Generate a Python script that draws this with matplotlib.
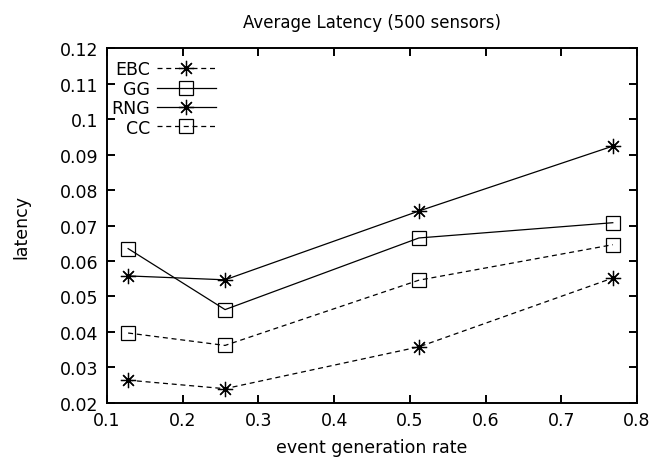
import matplotlib
matplotlib.use("Agg")
import matplotlib.pyplot as plt

# event generation rate
rate = [0.128, 0.256, 0.512, 0.768]

# average latency per protocol
ebc = [0.0264, 0.0240, 0.0358, 0.0552]
gg = [0.0635, 0.0463, 0.0665, 0.0708]
rng = [0.0558, 0.0547, 0.0741, 0.0924]
cc = [0.0397, 0.0362, 0.0546, 0.0646]

plt.rcParams["font.family"] = ["DejaVu Sans"]
plt.rcParams["font.size"] = 12.5

fig = plt.figure(figsize=(6.52, 4.6), dpi=100)
ax = fig.add_axes([0.164, 0.122, 0.813, 0.771])

star = (8, 2, 0)
dash = (4, 3)
common = dict(color="black", linewidth=0.9, markeredgewidth=0.9)

ax.plot(rate, ebc, linestyle="--", dashes=dash, marker=star, markersize=11,
        label="EBC", **common)
ax.plot(rate, gg, linestyle="-", marker="s", markersize=10, markerfacecolor="none",
        label="GG", **common)
ax.plot(rate, rng, linestyle="-", marker=star, markersize=11, label="RNG", **common)
ax.plot(rate, cc, linestyle="--", dashes=dash, marker="s", markersize=10,
        markerfacecolor="none", label="CC", **common)

ax.set_xlim(0.1, 0.8)
ax.set_ylim(0.02, 0.12)
ax.set_xticks([0.1, 0.2, 0.3, 0.4, 0.5, 0.6, 0.7, 0.8])
ax.set_xticklabels(["0.1", "0.2", "0.3", "0.4", "0.5", "0.6", "0.7", "0.8"])
ax.set_yticks([0.02, 0.03, 0.04, 0.05, 0.06, 0.07, 0.08, 0.09, 0.1, 0.11, 0.12])
ax.set_yticklabels(["0.02", "0.03", "0.04", "0.05", "0.06", "0.07", "0.08",
                    "0.09", "0.1", "0.11", "0.12"])
ax.tick_params(direction="in", length=6, width=1.4, top=True, right=True, pad=6)
for sp in ax.spines.values():
    sp.set_linewidth(1.4)

ax.set_title("Average Latency (500 sensors)", fontsize=12, pad=15)
ax.set_xlabel("event generation rate", labelpad=6)
ax.set_ylabel("latency", labelpad=21)

ax.legend(loc="upper left", frameon=False, markerfirst=False, handlelength=3.4,
          handletextpad=0.4, labelspacing=0.08, borderaxespad=0.3,
          bbox_to_anchor=(-0.015, 1.0))

fig.savefig("out.png", dpi=100)
